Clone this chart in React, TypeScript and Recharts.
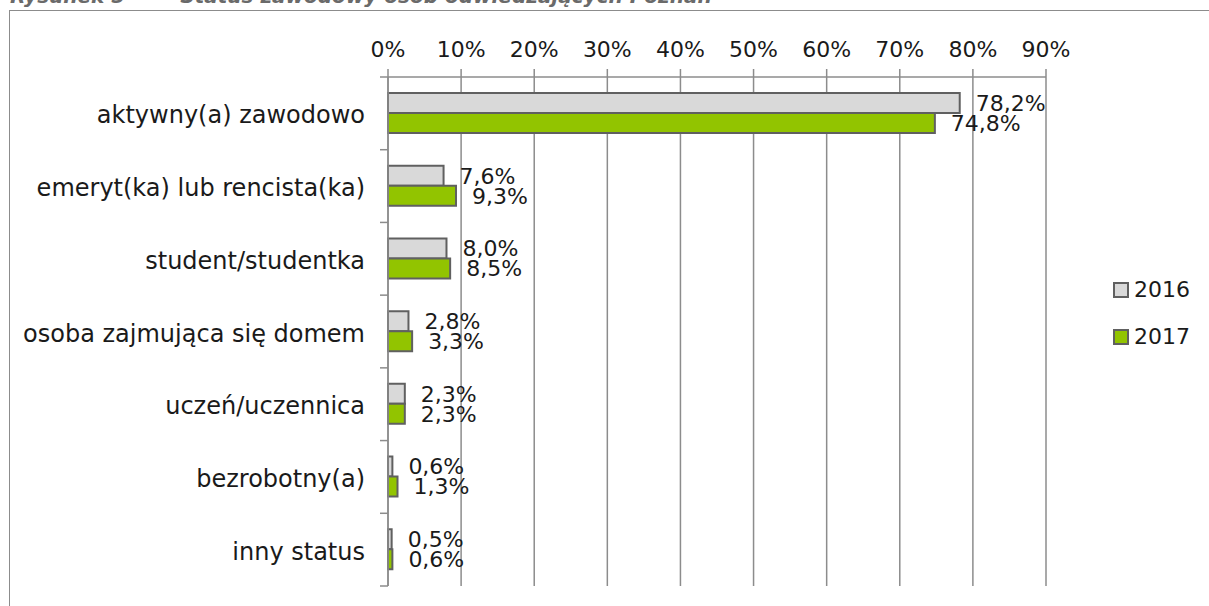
import { BarChart, Bar, XAxis, YAxis, CartesianGrid, Legend, LabelList } from 'recharts';

const categories = [
  'aktywny(a) zawodowo',
  'emeryt(ka) lub rencista(ka)',
  'student/studentka',
  'osoba zajmująca się domem',
  'uczeń/uczennica',
  'bezrobotny(a)',
  'inny status',
];
const values2016 = [78.2, 7.6, 8.0, 2.8, 2.3, 0.6, 0.5];
const values2017 = [74.8, 9.3, 8.5, 3.3, 2.3, 1.3, 0.6];
const xTicks = [0, 10, 20, 30, 40, 50, 60, 70, 80, 90];

const data = categories.map((name, i) => ({ name, y2016: values2016[i], y2017: values2017[i] }));

const FONT = '"DejaVu Sans", sans-serif';
const GRID = '#8c8c8c';
const BORDER = '#606060';
const GRAY = '#d9d9d9';
const GREEN = '#92c400';

const PLOT_TOP = 77;
const PLOT_BOTTOM = 586;
const band = (PLOT_BOTTOM - PLOT_TOP) / categories.length;

const pct = (v: number) => `${v.toFixed(1).replace('.', ',')}%`;

function CategoryTick(props: any) {
  const { x, y, payload, index } = props;
  return (
    <g>
      <line x1={x} x2={x + 8} y1={y - band / 2} y2={y - band / 2} stroke={GRID} strokeWidth={1.5} />
      {index === categories.length - 1 && (
        <line x1={x} x2={x + 8} y1={y + band / 2} y2={y + band / 2} stroke={GRID} strokeWidth={1.5} />
      )}
      <text x={x - 15} y={y + 10} textAnchor="end" fontSize={24} fontFamily={FONT} fill="#1a1a1a">
        {payload.value}
      </text>
    </g>
  );
}

function LegendBox() {
  const items = [
    { label: '2016', fill: GRAY },
    { label: '2017', fill: GREEN },
  ];
  return (
    <div style={{ fontFamily: FONT, fontSize: 22, color: '#1a1a1a' }}>
      {items.map((it) => (
        <div key={it.label} style={{ display: 'flex', alignItems: 'center', height: 47 }}>
          <span
            style={{
              width: 12,
              height: 12,
              background: it.fill,
              border: `2px solid ${BORDER}`,
              marginRight: 5,
              display: 'inline-block',
            }}
          />
          {it.label}
        </div>
      ))}
    </div>
  );
}

export default function App() {
  return (
    <div style={{ position: 'absolute', left: 0, top: 0, width: 1209, height: 606, overflow: 'hidden', background: '#fff' }}>
      <div
        style={{
          position: 'absolute',
          top: -14,
          left: 10,
          fontFamily: FONT,
          fontSize: 20,
          fontWeight: 'bold',
          fontStyle: 'italic',
          color: '#6a6a6a',
          whiteSpace: 'nowrap',
          lineHeight: '20px',
        }}
      >
        Rysunek 5<span style={{ display: 'inline-block', width: 55 }} />Status zawodowy osób odwiedzających Poznań
      </div>
      <div
        style={{
          position: 'absolute',
          left: 9,
          top: 10,
          width: 1300,
          height: 700,
          border: '1.5px solid #8c8c8c',
        }}
      />
      <div style={{ position: 'absolute', left: 0, top: 0 }}>
        <BarChart
          width={1209}
          height={606}
          data={data}
          layout="vertical"
          margin={{ top: 10, right: 67, bottom: 20, left: 10 }}
          barGap={0}
          barSize={20}
        >
          <CartesianGrid horizontal={false} stroke={GRID} strokeWidth={1.5} />
          <XAxis
            type="number"
            orientation="top"
            domain={[0, 90]}
            ticks={xTicks}
            tickFormatter={(v: number) => `${v}%`}
            height={67}
            tickSize={8}
            tickMargin={12}
            interval={0}
            stroke={GRID}
            strokeWidth={1.5}
            tick={{ fontSize: 22, fontFamily: FONT, fill: '#1a1a1a' }}
          />
          <YAxis
            type="category"
            dataKey="name"
            width={378}
            tickLine={false}
            stroke={GRID}
            strokeWidth={1.5}
            interval={0}
            tick={<CategoryTick />}
          />
          <Legend
            layout="horizontal"
            verticalAlign="middle"
            align="right"
            wrapperStyle={{ left: 1113, top: 266, right: 'auto', width: 96 }}
            content={<LegendBox />}
          />
          <Bar dataKey="y2016" name="2016" fill={GRAY} stroke={BORDER} strokeWidth={2} isAnimationActive={false}>
            <LabelList
              dataKey="y2016"
              position="right"
              offset={16}
              formatter={(v: any) => pct(Number(v))}
              style={{ fontSize: 22, fontFamily: FONT, fill: '#1a1a1a' }}
            />
          </Bar>
          <Bar dataKey="y2017" name="2017" fill={GREEN} stroke={BORDER} strokeWidth={2} isAnimationActive={false}>
            <LabelList
              dataKey="y2017"
              position="right"
              offset={16}
              formatter={(v: any) => pct(Number(v))}
              style={{ fontSize: 22, fontFamily: FONT, fill: '#1a1a1a' }}
            />
          </Bar>
        </BarChart>
      </div>
    </div>
  );
}
